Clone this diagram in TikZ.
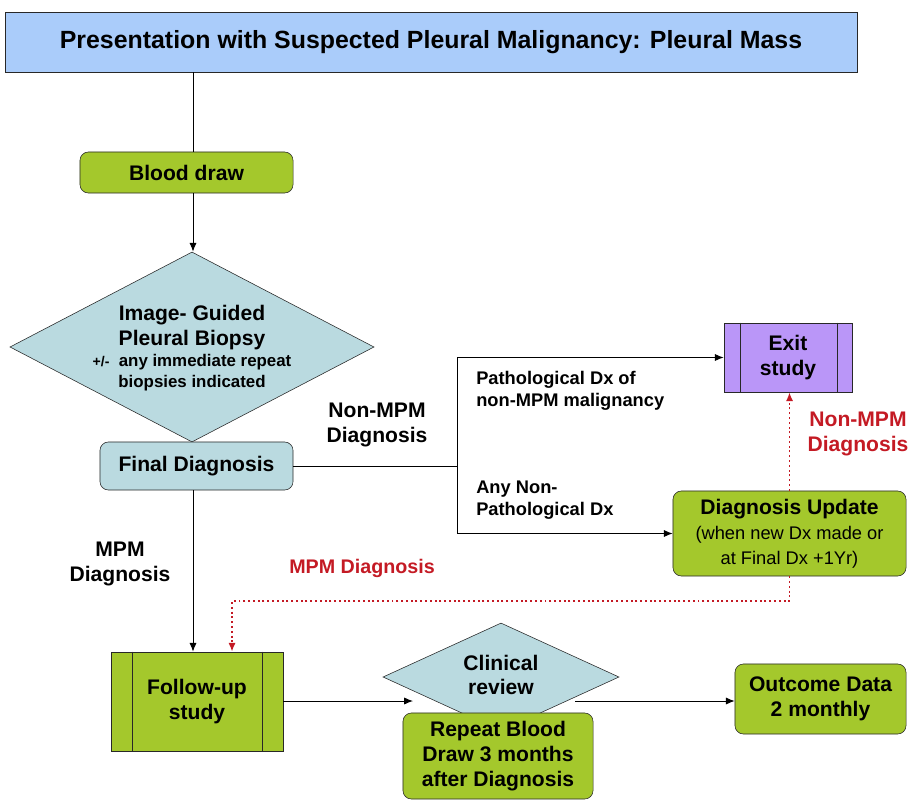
\documentclass[tikz,border=0pt]{standalone}
\usepackage{fontspec}
\setmainfont{Liberation Sans}
\usetikzlibrary{shapes.geometric,arrows.meta}

\definecolor{titleblue}{RGB}{170,204,250}
\definecolor{boxgreen}{RGB}{164,200,44}
\definecolor{boxgrey}{RGB}{186,218,224}
\definecolor{exitpurple}{RGB}{186,150,248}
\definecolor{dxred}{RGB}{196,26,36}
\definecolor{edgegrey}{RGB}{40,40,40}

\tikzstyle{every node}=[font=\bfseries\fontsize{15}{17.7}\selectfont, align=center, inner sep=0pt]
\tikzstyle{titlebox}=[draw=edgegrey, fill=titleblue, minimum width=21.3cm, minimum height=1.5cm, font=\bfseries\fontsize{17.7}{20}\selectfont]
\tikzstyle{greenbox}=[draw=edgegrey, fill=boxgreen, rounded corners=6pt]
\tikzstyle{greybox}=[draw=edgegrey, fill=boxgrey, rounded corners=6pt]
\tikzstyle{decision}=[draw=edgegrey, fill=boxgrey, diamond]
\tikzstyle{flow}=[-{Latex[length=2.2mm,width=1.8mm]}, line width=0.7pt]
\tikzstyle{link}=[line width=0.7pt]
\tikzstyle{redflow}=[dxred, dotted, line width=1.4pt, -{Latex[length=2.2mm,width=1.8mm]}]
\tikzstyle{redlabel}=[text=dxred]
\tikzstyle{note}=[font=\bfseries\fontsize{13}{16}\selectfont, align=left, anchor=west]

\begin{document}
\begin{tikzpicture}[x=0.025cm, y=-0.025cm]
    \useasboundingbox (0,0) rectangle (911,800);
    \coordinate (spine) at (193,0);

    \node [titlebox] (title) at (431,42) {Presentation with Suspected Pleural Malignancy: Pleural Mass};
    \node [greenbox, minimum width=5.325cm, minimum height=1.025cm] (blood) at (186.5,172.5) {Blood draw};
    \node [decision, minimum width=9.1cm, minimum height=4.75cm] (biopsy) at (192,347) {};
    \node (biopsytext) at (192,348) {Image- Guided\\Pleural Biopsy\\[-3pt]
        \fontsize{12}{15}\selectfont{\fontsize{10}{12}\selectfont+/-}\ \ any immediate repeat\\[-3pt]
        \fontsize{12}{15}\selectfont biopsies indicated};
    \node [greybox, minimum width=4.825cm, minimum height=1.2cm] (final) at (196.5,466) {Final Diagnosis};

    \node [draw=edgegrey, fill=exitpurple, minimum width=3.2cm, minimum height=1.725cm] (exit) at (788,357.5) {Exit\\study};
    \draw [edgegrey] ([xshift=0.42cm]exit.north west) -- ([xshift=0.42cm]exit.south west);
    \draw [edgegrey] ([xshift=-0.38cm]exit.north east) -- ([xshift=-0.38cm]exit.south east);
    \node [greenbox, minimum width=5.825cm, minimum height=2.125cm] (update) at (789.5,533.5) {Diagnosis Update\\
        \mdseries\fontsize{13}{15.6}\selectfont(when new Dx made or\\
        \mdseries\fontsize{13}{15.6}\selectfont at Final Dx +1Yr)};

    \node [draw=edgegrey, fill=boxgreen, minimum width=4.3cm, minimum height=2.475cm] (follow) at (197,701.5) {Follow-up\\study};
    \draw [edgegrey] ([xshift=0.55cm]follow.north west) -- ([xshift=0.55cm]follow.south west);
    \draw [edgegrey] ([xshift=-0.53cm]follow.north east) -- ([xshift=-0.53cm]follow.south east);
    \node [decision, minimum width=5.9cm, minimum height=2.7cm] (clinical) at (501,677) {};
    \node (clinicaltext) at (501,675) {Clinical\\review};
    \node [greenbox, minimum width=4.75cm, minimum height=2.15cm] (repeat) at (498,756) {Repeat Blood\\Draw 3 months\\after Diagnosis};
    \node [greenbox, minimum width=4.275cm, minimum height=1.75cm] (outcome) at (820.5,699) {Outcome Data\\2 monthly};

    \coordinate (split) at (457,466);
    \coordinate (redin) at (232,601);
    \coordinate (crin) at (413,701);
    \coordinate (crout) at (575,701);

    \draw [link] (title.south -| spine) -- (blood.north -| spine);
    \draw [flow] (blood.south -| spine) -- (biopsy.north -| spine);
    \draw [link] (final.east) -- (split);
    \draw [flow] (split) |- (exit.west);
    \draw [flow] (split) |- (update.west);
    \draw [redflow] (update.north) -- (update.north |- exit.south);
    \draw [redflow] (update.south) |- (redin) -- (redin |- follow.north);
    \draw [flow] (final.south -| spine) -- (follow.north -| spine);
    \draw [flow] (follow.east |- crin) -- (crin);
    \draw [flow] (crout) -- (crout -| outcome.west);

    \node (nonmpm) at (377,425) {Non-MPM\\Diagnosis};
    \node [note] (pathdx) at (476,391) {Pathological Dx of\\non-MPM malignancy};
    \node [note] (otherdx) at (476,500) {Any Non-\\Pathological Dx};
    \node [redlabel] (rednonmpm) at (858,434) {Non-MPM\\Diagnosis};
    \node [redlabel, font=\bfseries\fontsize{14}{17}\selectfont] (redmpm) at (362,568) {MPM Diagnosis};
    \node (mpm) at (120,564) {MPM\\Diagnosis};
\end{tikzpicture}
\end{document}
